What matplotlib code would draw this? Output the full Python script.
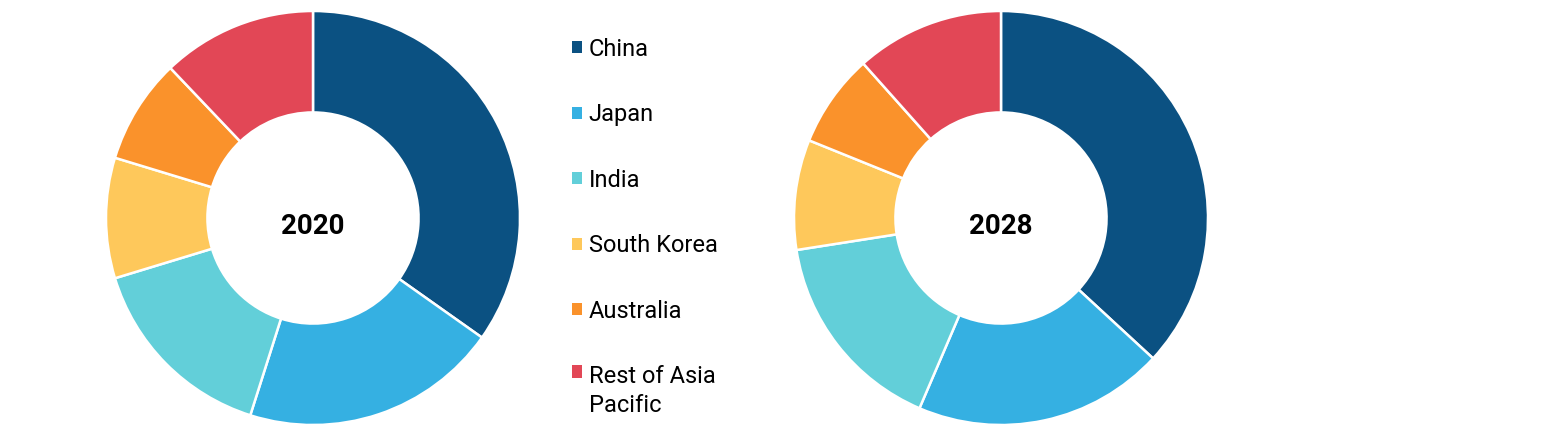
import matplotlib.pyplot as plt
from matplotlib.patches import Patch

plt.rcParams['font.family'] = ['Roboto', 'DejaVu Sans']

regions = ["China", "Japan", "India", "South Korea", "Australia", "Rest of Asia\nPacific"]
colors = ["#0B5182", "#35B0E2", "#62CFD9", "#FEC85B", "#FA922B", "#E24756"]
share_2020 = [34.8, 20.1, 15.4, 9.4, 8.2, 12.1]
share_2028 = [36.9, 19.6, 16.1, 8.6, 7.3, 11.6]

W, H = 1558, 436
fig = plt.figure(figsize=(W / 100, H / 100), dpi=100)


def donut(cx, cy, r, values, year):
    ax = fig.add_axes([(cx - r) / W, (H - cy - r) / H, 2 * r / W, 2 * r / H])
    ax.pie(values, colors=colors, startangle=90, counterclock=False,
           wedgeprops=dict(width=0.49, edgecolor="white", linewidth=1.8))
    ax.set_xlim(-1, 1)
    ax.set_ylim(-1, 1)
    ax.set_aspect("equal")
    ax.text(0, -0.04, year, ha="center", va="center", fontsize=20, fontweight="bold")
    return ax


ax1 = donut(313, 218, 207, share_2020, "2020")
ax2 = donut(1001, 218, 207, share_2028, "2028")

handles = [Patch(facecolor=c, edgecolor="none") for c in colors]
leg = fig.legend(handles, regions, loc="upper left", bbox_to_anchor=(560 / W, 1 - 26 / H),
                 frameon=False, fontsize=17, handlelength=0.42, handleheight=0.42,
                 handletextpad=0.3, labelspacing=1.8, borderpad=0)
for t in leg.get_texts():
    t.set_linespacing(1.3)

# put the marker of the two-line entry next to its first line
for col in leg._legend_handle_box.get_children():
    for row in col.get_children():
        texts = [c for c in row.get_children() if hasattr(c, "_text")]
        if texts and "\n" in texts[0]._text.get_text():
            row.align = "top"

fig.savefig("out.png", dpi=100)
